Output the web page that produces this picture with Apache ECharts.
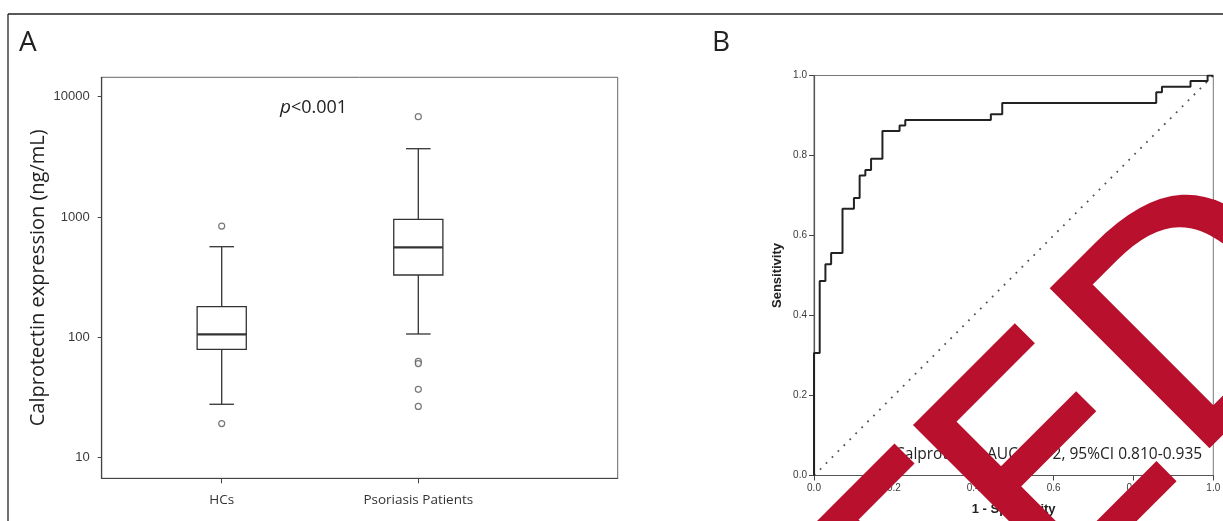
<!DOCTYPE html>
<html><head><meta charset="utf-8">
<script src="https://cdn.jsdelivr.net/npm/echarts@6/dist/echarts.min.js"></script>
<style>html,body{margin:0;padding:0;background:#fff}#c{width:1223px;height:521px}</style>
</head><body><div id="c"></div>
<script>
// ---- Panel A data (box plot, log scale) ----
const boxCategories = ['HCs', 'Psoriasis Patients'];
const boxPositions = [1, 2];
const boxLowWhisker = [27.8, 106.7];
const boxQ1 = [79.6, 330];
const boxMedian = [106, 560];
const boxQ3 = [180, 957];
const boxHighWhisker = [567, 3698];
const outlierGroup = [1, 1, 2, 2, 2, 2, 2];
const outlierValue = [842, 19.2, 6820, 63.2, 60.6, 37, 26.7];
const yTicksA = [10, 100, 1000, 10000];

// ---- Panel B data (ROC curve) ----
const rocFpr  = [0, 0.0143, 0.0286, 0.0429, 0.0714, 0.1, 0.1143, 0.1286, 0.1429, 0.1714, 0.2143, 0.2286, 0.4429, 0.4714, 0.8571, 0.8714, 0.9429, 0.9857, 1.0];
const rocSens = [0, 0.306, 0.486, 0.528, 0.556, 0.667, 0.694, 0.750, 0.764, 0.792, 0.861, 0.875, 0.889, 0.903, 0.931, 0.958, 0.972, 0.986, 1.0];
const refFpr = [0, 1];
const refSens = [0, 1];
const rocTicks = [0, 0.2, 0.4, 0.6, 0.8, 1.0];

const chart = echarts.init(document.getElementById('c'), null, {renderer: 'canvas'});

function renderBox(params, api) {
  const x = api.value(0);
  const pLo = api.coord([x, api.value(1)]);
  const pQ1 = api.coord([x, api.value(2)]);
  const pMed = api.coord([x, api.value(3)]);
  const pQ3 = api.coord([x, api.value(4)]);
  const pHi = api.coord([x, api.value(5)]);
  const left = api.coord([x - 0.125, api.value(3)])[0];
  const right = api.coord([x + 0.125, api.value(3)])[0];
  const bw = right - left;
  const cw = bw / 2;
  const cx = pMed[0];
  const ln = (x1, y1, x2, y2, w) => ({type: 'line', shape: {x1, y1, x2, y2}, style: {stroke: '#333', lineWidth: w}});
  return {type: 'group', children: [
    ln(cx, pQ3[1], cx, pHi[1], 1.3),
    ln(cx, pQ1[1], cx, pLo[1], 1.3),
    ln(cx - cw / 2, pHi[1], cx + cw / 2, pHi[1], 1.3),
    ln(cx - cw / 2, pLo[1], cx + cw / 2, pLo[1], 1.3),
    {type: 'rect', shape: {x: left, y: pQ3[1], width: bw, height: pQ1[1] - pQ3[1]}, style: {fill: '#fff', stroke: '#333', lineWidth: 1.3}},
    ln(left, pMed[1], right, pMed[1], 2.3)
  ]};
}

const option = {
  animation: false,
  backgroundColor: '#fff',
  grid: [
    {left: 101.7, top: 77.3, width: 516, height: 401, show: true, borderColor: '#666', borderWidth: 1, backgroundColor: 'transparent', outerBoundsMode: 'none', containLabel: false},
    {left: 814, top: 75.5, width: 399.3, height: 400, show: true, borderColor: '#777', borderWidth: 1, backgroundColor: 'transparent', outerBoundsMode: 'none', containLabel: false}
  ],
  xAxis: [
    {
      gridIndex: 0, type: 'value', min: 0.3896, max: 3.0142,
      axisLine: {show: true, lineStyle: {color: '#444', width: 1.2}},
      axisTick: {show: true, customValues: boxPositions, length: 5, lineStyle: {color: '#444'}},
      axisLabel: {customValues: boxPositions, formatter: v => boxCategories[Math.round(v) - 1], margin: 15,
                  fontFamily: 'Open Sans', fontSize: 13.5, color: '#333'},
      splitLine: {show: false}
    },
    {
      gridIndex: 1, type: 'value', min: 0, max: 1, interval: 0.2,
      name: '1 - Specificity', nameLocation: 'middle', nameGap: 27, nameMoveOverlap: false,
      nameTextStyle: {fontFamily: 'Liberation Sans', fontWeight: 'bold', fontSize: 13, color: '#222'},
      axisLine: {show: true, lineStyle: {color: '#555', width: 1.2}},
      axisTick: {show: true, customValues: rocTicks, length: 5, lineStyle: {color: '#444'}},
      axisLabel: {customValues: rocTicks, formatter: v => v.toFixed(1), margin: 8,
                  fontFamily: 'Liberation Sans', fontSize: 10, color: '#3a3a3a'},
      splitLine: {show: false}
    }
  ],
  yAxis: [
    {
      gridIndex: 0, type: 'log', logBase: 10, min: 6.744, max: 14500,
      name: 'Calprotectin expression (ng/mL)', nameLocation: 'middle', nameGap: 53, nameRotate: 90, nameMoveOverlap: false,
      nameTextStyle: {fontFamily: 'Open Sans', fontSize: 20, color: '#222'},
      axisLine: {show: true, lineStyle: {color: '#444', width: 1.2}},
      axisTick: {show: true, customValues: yTicksA, length: 4, lineStyle: {color: '#444'}},
      axisLabel: {customValues: yTicksA, formatter: v => String(Math.round(v)), margin: 12,
                  fontFamily: 'Liberation Sans', fontSize: 13, color: '#3a3a3a'},
      splitLine: {show: false}, minorTick: {show: false}
    },
    {
      gridIndex: 1, type: 'value', min: 0, max: 1, interval: 0.2,
      name: 'Sensitivity', nameLocation: 'middle', nameGap: 30, nameRotate: 90, nameMoveOverlap: false,
      nameTextStyle: {fontFamily: 'Liberation Sans', fontWeight: 'bold', fontSize: 13, color: '#222'},
      axisLine: {show: true, lineStyle: {color: '#555', width: 1.2}},
      axisTick: {show: true, customValues: rocTicks, length: 5, lineStyle: {color: '#444'}},
      axisLabel: {customValues: rocTicks, formatter: v => v.toFixed(1), margin: 7,
                  fontFamily: 'Liberation Sans', fontSize: 10, color: '#3a3a3a'},
      splitLine: {show: false}
    }
  ],
  series: [
    {
      type: 'custom', xAxisIndex: 0, yAxisIndex: 0,
      renderItem: renderBox,
      encode: {x: 0, y: [1, 2, 3, 4, 5]},
      data: boxPositions.map((p, i) => [p, boxLowWhisker[i], boxQ1[i], boxMedian[i], boxQ3[i], boxHighWhisker[i]]),
      z: 2
    },
    {
      type: 'scatter', xAxisIndex: 0, yAxisIndex: 0,
      symbol: 'circle', symbolSize: 6,
      itemStyle: {color: '#fff', borderColor: '#555', borderWidth: 1.2},
      data: outlierGroup.map((g, i) => [g, outlierValue[i]]),
      z: 3
    },
    {
      type: 'line', xAxisIndex: 1, yAxisIndex: 1,
      data: refFpr.map((f, i) => [f, refSens[i]]),
      showSymbol: false, symbol: 'none',
      lineStyle: {color: '#555', width: 1.8, type: [1.8, 6.6]},
      z: 2
    },
    {
      type: 'line', xAxisIndex: 1, yAxisIndex: 1, step: 'start',
      data: rocFpr.map((f, i) => [f, rocSens[i]]),
      showSymbol: false, symbol: 'none',
      lineStyle: {color: '#222', width: 2},
      z: 3
    }
  ],
  graphic: [
    {type: 'line', shape: {x1: 8, y1: 14, x2: 1223, y2: 14}, style: {stroke: '#222', lineWidth: 1.3}},
    {type: 'line', shape: {x1: 8, y1: 14, x2: 8, y2: 521}, style: {stroke: '#222', lineWidth: 1.3}},
    {type: 'text', x: 19, y: 43, style: {text: 'A', fontFamily: 'Open Sans', fontSize: 28, fill: '#222', align: 'left', verticalAlign: 'middle'}},
    {type: 'text', x: 712, y: 43, style: {text: 'B', fontFamily: 'Open Sans', fontSize: 28, fill: '#222', align: 'left', verticalAlign: 'middle'}},
    {type: 'text', x: 280, y: 108, style: {text: '{i|p}<0.001', fontFamily: 'Open Sans', fontSize: 18, fill: '#222', align: 'left', verticalAlign: 'middle',
      rich: {i: {fontStyle: 'italic', fontFamily: 'Open Sans', fontSize: 19, fill: '#222'}}}},
    {type: 'text', x: 895, y: 455, z: 10, style: {text: 'Calprotectin AUC 0.872, 95%CI 0.810-0.935', fontFamily: 'Open Sans', fontSize: 15.5, fill: '#222', align: 'left', verticalAlign: 'middle'}},
    {type: 'text', x: 1298.7, y: 244.5, rotation: Math.PI / 4, z: 100, style: {text: 'RETRACTED', fontFamily: 'DejaVu Sans', fontSize: 306, fill: '#B8102D', stroke: '#B8102D', lineWidth: 3, align: 'right', verticalAlign: 'middle'}}
  ]
};
chart.setOption(option);
</script>
</body></html>
